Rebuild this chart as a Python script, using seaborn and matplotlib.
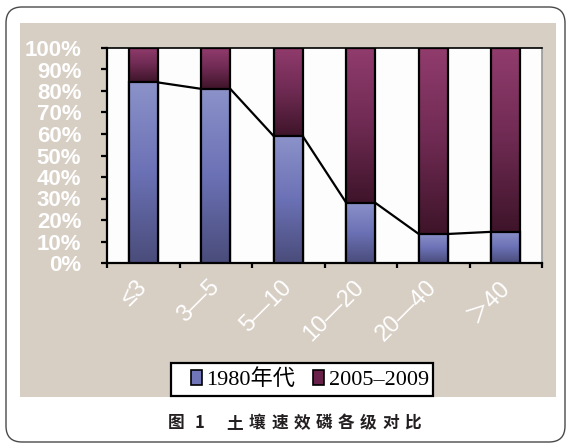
import numpy as np
import pandas as pd
import matplotlib
matplotlib.use("Agg")
import matplotlib.pyplot as plt
from matplotlib.patches import Rectangle, FancyBboxPatch
from matplotlib.transforms import IdentityTransform
from matplotlib.colors import LinearSegmentedColormap
from matplotlib.ticker import FixedLocator
from matplotlib.font_manager import FontProperties
import seaborn as sns

# ---- data -----------------------------------------------------------------
grades = ["≤3", "3—5", "5—10", "10—20", "20—40", "＞40"]
share_1980s = [84, 81, 59, 28, 13.5, 14.5]          # % of samples, 1980s survey
share_2005_2009 = [16, 19, 41, 72, 86.5, 85.5]      # % of samples, 2005-2009
series_names = ["1980年代", "2005–2009"]
y_ticks = [0, 10, 20, 30, 40, 50, 60, 70, 80, 90, 100]
fig_label = "图 1"
fig_title = "土壤速效磷各级对比"

# ---- style ----------------------------------------------------------------
plt.rcParams["font.family"] = ["Liberation Sans", "Noto Sans CJK SC", "DejaVu Sans"]

W, H = 568, 444
fig = plt.figure(figsize=(W / 100, H / 100), dpi=100)
fig.patch.set_facecolor("white")

px = IdentityTransform()

# rounded outer frame and the beige chart panel (behind the axes)
fig.add_artist(FancyBboxPatch((6, H - 442), 559, 435,
                              boxstyle="round,pad=0,rounding_size=16",
                              transform=px, facecolor="white",
                              edgecolor="#4a4a4a", linewidth=1.0, zorder=-3))
fig.add_artist(Rectangle((20, H - 397), 536, 374, transform=px,
                         facecolor="#d7cec4", edgecolor="none", zorder=-2))

ax = fig.add_axes([107 / W, (H - 263) / H, 435 / W, 215 / H])
ax.set_facecolor("#fdfdfd")

df = pd.DataFrame({"grade": grades,
                   "p1980": share_1980s,
                   "p2005": share_2005_2009})
df["total"] = df["p1980"] + df["p2005"]

purple = "#7a2b58"
blue = "#6c72b4"

sns.barplot(data=df, x="grade", y="total", order=grades, width=0.4,
            color=purple, errorbar=None, ax=ax, zorder=2)
upper = list(ax.patches)
sns.barplot(data=df, x="grade", y="p1980", order=grades, width=0.4,
            color=blue, errorbar=None, ax=ax, zorder=3)
lower = [p for p in ax.patches if p not in upper]

cmap_purple = LinearSegmentedColormap.from_list(
    "pur", ["#913c6d", "#6e2a52", "#3e1429"])
cmap_blue = LinearSegmentedColormap.from_list(
    "blu", ["#8c92c9", "#6b71b5", "#4a4c7a"])
grad = np.linspace(0, 1, 256).reshape(-1, 1)


def shade(x0, x1, y0, y1, cmap, z):
    ax.imshow(grad, cmap=cmap, aspect="auto", origin="upper",
              extent=(x0, x1, y0, y1), interpolation="bilinear", zorder=z)


for top, bot in zip(upper, lower):
    x0 = bot.get_x()
    x1 = x0 + bot.get_width()
    b_top = bot.get_y() + bot.get_height()
    t_top = top.get_y() + top.get_height()
    shade(x0, x1, b_top, t_top, cmap_purple, 1.9)
    shade(x0, x1, bot.get_y(), b_top, cmap_blue, 2.9)
    for p in (top, bot):
        p.set_facecolor("none")
        p.set_edgecolor("black")
        p.set_linewidth(1.6)

# series lines joining the 1980s tops of neighbouring bars
for a, b in zip(lower[:-1], lower[1:]):
    ax.plot([a.get_x() + a.get_width(), b.get_x()],
            [a.get_y() + a.get_height(), b.get_y() + b.get_height()],
            color="black", linewidth=1.6, zorder=4, solid_capstyle="butt")

ax.set_xlim(-0.5, len(grades) - 0.5)
ax.set_ylim(0, 100)
ax.set_xlabel("")
ax.set_ylabel("")

for side in ("left", "bottom", "top"):
    ax.spines[side].set_color("black")
    ax.spines[side].set_linewidth(1.6)
ax.spines["top"].set_linewidth(1.2)
ax.spines["right"].set_color("#9a9a9a")
ax.spines["right"].set_linewidth(1.2)

ax.yaxis.set_major_locator(FixedLocator(y_ticks))
ax.set_yticklabels([f"{v}%" for v in y_ticks], fontweight="bold")
ax.tick_params(axis="y", direction="out", length=4.5, width=1.6,
               color="black", labelcolor="white", labelsize=16, pad=14)

ax.set_xticks(range(len(grades)))
ax.set_xticklabels(grades, rotation=45, ha="right", va="center",
                   rotation_mode="anchor")
ax.set_xticks(np.arange(-0.5, len(grades), 1), minor=True)
ax.tick_params(axis="x", which="major", length=0, labelcolor="white",
               labelsize=17, pad=15)
ax.tick_params(axis="x", which="minor", direction="out", length=3.6,
               width=1.6, color="black")

# legend: white box with a frameless legend inside it
fig.add_artist(Rectangle((171, H - 396), 262, 33, transform=px,
                         facecolor="white", edgecolor="black",
                         linewidth=1.6, zorder=5))
handles = [Rectangle((0, 0), 1, 1, facecolor=c, edgecolor="black", linewidth=1.2)
           for c in ("#6f75b6", "#6a2149")]
leg = fig.legend(handles, series_names, loc="center left",
                 bbox_to_anchor=(191 / W, (H - 380) / H), ncol=2,
                 prop=FontProperties(family=["Liberation Serif", "Noto Sans CJK SC"],
                                     size=16),
                 frameon=False, borderpad=0, borderaxespad=0,
                 handlelength=0.5, handleheight=0.65, handletextpad=0.2,
                 columnspacing=0.8)
leg.set_zorder(6)


# caption with wide character tracking
def tracked(text, x_start, pitch, y):
    for i, ch in enumerate(text):
        if ch.strip():
            fig.text(x_start + i * pitch, y, ch, transform=px,
                     ha="center", va="center", fontsize=12,
                     fontweight="bold", color="#231f20",
                     family=["Noto Sans CJK SC", "DejaVu Sans"])


tracked(fig_label, 175.8, 11.6, H - 422.7)
tracked(fig_title, 235.0, 22.2, H - 422.7)

fig.savefig("out.png", dpi=100)
